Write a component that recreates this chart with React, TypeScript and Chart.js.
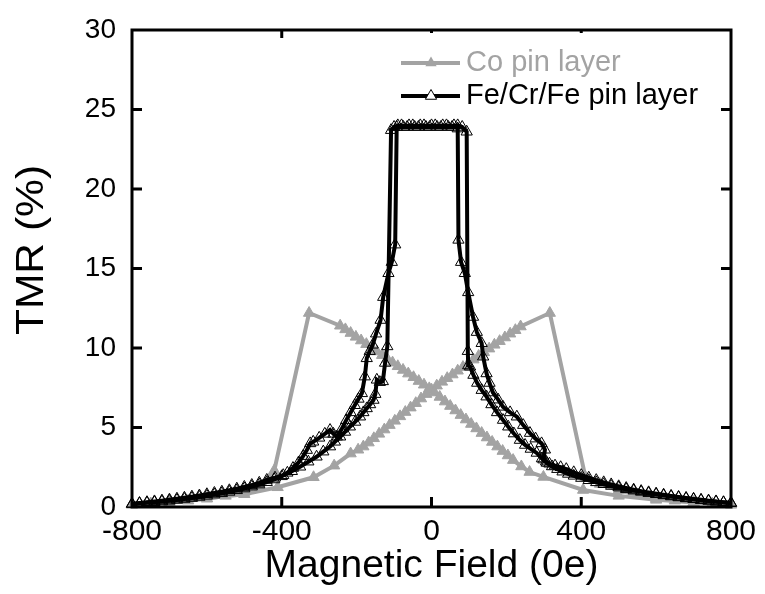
import React, { useEffect, useRef } from "react";
import { Chart, registerables } from "chart.js";

Chart.register(...registerables);

// ---- Data (Magnetic field in Oe, TMR in %) ----
const xTickValues = [-800, -400, 0, 400, 800];
const yTickValues = [0, 5, 10, 15, 20, 25, 30];

// Co pin layer, branch with the left jump
const coAField = [-800, -750, -700, -650, -600, -550, -500, -460, -420, -327, -244, -230, -216, -202, -188, -174, -160, -146, -132, -118, -104, -90, -76, -62, -48, -34, -20, -6, 8, 22, 36, 50, 64, 78, 92, 106, 120, 134, 148, 162, 176, 190, 204, 218, 240, 262, 299, 405, 500, 600, 700, 800];
const coATmr = [0.15, 0.22, 0.3, 0.4, 0.52, 0.7, 0.95, 1.3, 2.3, 12.2, 11.4, 11.17, 10.94, 10.7, 10.47, 10.24, 10.01, 9.78, 9.55, 9.31, 9.08, 8.85, 8.62, 8.39, 8.16, 7.92, 7.69, 7.46, 7.2, 6.92, 6.63, 6.35, 6.07, 5.78, 5.5, 5.22, 4.94, 4.65, 4.37, 4.09, 3.8, 3.52, 3.24, 2.95, 2.55, 2.2, 1.89, 1.07, 0.7, 0.45, 0.3, 0.15];

// Co pin layer, branch with the right jump
const coBField = [800, 750, 700, 650, 600, 550, 500, 450, 411, 316, 238, 224, 210, 196, 182, 168, 154, 140, 126, 112, 98, 84, 70, 56, 42, 28, 14, 0, -14, -28, -42, -56, -70, -84, -98, -112, -126, -140, -154, -168, -182, -196, -216, -260, -315, -411, -500, -600, -700, -800];
const coBTmr = [0.15, 0.22, 0.3, 0.4, 0.55, 0.75, 1.05, 1.45, 1.89, 12.2, 11.35, 11.12, 10.9, 10.66, 10.43, 10.2, 9.96, 9.73, 9.5, 9.27, 9.03, 8.8, 8.57, 8.33, 8.1, 7.87, 7.63, 7.38, 7.1, 6.82, 6.53, 6.25, 5.97, 5.7, 5.42, 5.15, 4.87, 4.6, 4.32, 4.05, 3.8, 3.6, 3.36, 2.6, 1.87, 1.24, 0.8, 0.55, 0.35, 0.15];

// Fe/Cr/Fe pin layer, sweep from negative to positive field
const feAField = [-800, -780, -760, -740, -720, -700, -680, -660, -640, -620, -600, -580, -560, -540, -520, -500, -480, -460, -440, -420, -400, -385, -370, -355, -343, -333, -324, -316, -300, -285, -271, -262, -253, -240, -228, -216, -205, -195, -186, -178, -173, -165, -157, -148, -136, -129, -115, -106, -97, -93, -80, -65, -50, -35, -20, -5, 10, 25, 40, 55, 70, 82, 94, 97, 98, 103, 112, 122, 134, 147, 160, 175, 191, 205, 220, 236, 250, 265, 281, 295, 308, 322, 336, 350, 365, 380, 400, 420, 440, 460, 480, 500, 520, 540, 560, 580, 600, 620, 640, 660, 680, 700, 720, 740, 760, 780, 800];
const feATmr = [0.18, 0.22, 0.26, 0.3, 0.34, 0.39, 0.44, 0.5, 0.56, 0.63, 0.7, 0.78, 0.86, 0.95, 1.05, 1.16, 1.28, 1.41, 1.56, 1.73, 1.93, 2.15, 2.45, 2.8, 3.2, 3.58, 4.0, 4.1, 4.35, 4.6, 4.84, 4.6, 4.42, 4.9, 5.45, 5.95, 6.4, 6.8, 7.15, 8.2, 9.35, 9.8, 10.2, 10.9, 11.76, 13.2, 14.7, 15.4, 16.5, 23.9, 24.0, 23.9, 24.0, 23.9, 24.0, 23.9, 24.0, 23.9, 24.0, 23.9, 24.0, 23.9, 23.6, 9.8, 8.9, 8.82, 8.3, 7.8, 7.35, 6.94, 6.45, 5.95, 5.47, 5.05, 4.62, 4.21, 3.9, 3.65, 3.4, 3.05, 2.77, 2.55, 2.38, 2.22, 2.08, 1.96, 1.82, 1.68, 1.55, 1.43, 1.32, 1.22, 1.12, 1.03, 0.95, 0.87, 0.8, 0.73, 0.66, 0.6, 0.54, 0.49, 0.43, 0.38, 0.33, 0.28, 0.24];

// Fe/Cr/Fe pin layer, sweep from positive to negative field
const feBField = [800, 780, 760, 740, 720, 700, 680, 660, 640, 620, 600, 580, 560, 540, 520, 500, 480, 460, 440, 420, 400, 380, 360, 345, 330, 315, 306, 299, 303, 294, 278, 263, 245, 228, 210, 191, 178, 164, 155, 147, 138, 134, 121, 111, 98, 89, 79, 72, 70, 60, 45, 30, 15, 0, -15, -30, -45, -60, -75, -90, -100, -108, -118, -124, -130, -138, -146, -150, -155, -164, -173, -182, -191, -204, -218, -231, -244, -258, -271, -289, -307, -329, -351, -373, -396, -418, -440, -460, -480, -500, -520, -540, -560, -580, -600, -620, -640, -660, -680, -700, -720, -740, -760, -780, -800];
const feBTmr = [0.26, 0.3, 0.35, 0.4, 0.45, 0.51, 0.57, 0.63, 0.7, 0.77, 0.84, 0.92, 1.0, 1.09, 1.19, 1.3, 1.42, 1.55, 1.69, 1.84, 2.0, 2.18, 2.38, 2.5, 2.6, 2.72, 2.85, 2.98, 3.6, 4.0, 4.3, 4.65, 5.15, 5.68, 5.95, 6.3, 6.75, 7.2, 7.8, 8.4, 9.45, 10.3, 11.0, 11.95, 13.5, 14.7, 15.4, 16.8, 23.8, 24.0, 23.9, 24.0, 23.9, 24.0, 23.9, 24.0, 23.9, 24.0, 23.9, 24.0, 23.9, 23.7, 10.1, 9.06, 7.9, 7.85, 8.0, 7.1, 6.73, 6.45, 6.2, 5.95, 5.68, 5.35, 5.05, 4.72, 4.42, 4.1, 3.8, 3.48, 3.16, 2.85, 2.53, 2.25, 2.0, 1.84, 1.7, 1.52, 1.38, 1.26, 1.15, 1.05, 0.96, 0.88, 0.8, 0.72, 0.65, 0.58, 0.52, 0.46, 0.4, 0.35, 0.3, 0.25, 0.2];

const seriesNames = ["Co pin layer", "Fe/Cr/Fe pin layer"];
const xTitle = "Magnetic Field (0e)";
const yTitle = "TMR (%)";
const GRAY = "#a3a3a3";
const BLACK = "#000000";
const FONT = "'Liberation Sans', Arial, Helvetica, sans-serif";

const zip = (xs: number[], ys: number[]) => xs.map((x, i) => ({ x, y: ys[i] }));

const framePlugin = {
  id: "frame",
  afterDatasetsDraw(chart: any) {
    const { ctx, chartArea: a, scales } = chart;
    const xs = scales.x;
    const ys = scales.y;
    ctx.save();
    ctx.strokeStyle = BLACK;
    ctx.lineWidth = 3;
    ctx.lineCap = "butt";
    ctx.strokeRect(a.left, a.top, a.right - a.left, a.bottom - a.top);
    ctx.beginPath();
    const tl = 10;
    for (const v of yTickValues) {
      if (v === 0 || v === 30) continue;
      const py = ys.getPixelForValue(v);
      ctx.moveTo(a.left, py);
      ctx.lineTo(a.left + tl, py);
      ctx.moveTo(a.right, py);
      ctx.lineTo(a.right - tl, py);
    }
    for (const v of xTickValues) {
      if (v === -800 || v === 800) continue;
      const px = xs.getPixelForValue(v);
      ctx.moveTo(px, a.bottom);
      ctx.lineTo(px, a.bottom - tl);
      const topLen = v === -400 ? 8 : 3;
      ctx.moveTo(px, a.top);
      ctx.lineTo(px, a.top + topLen);
    }
    ctx.stroke();
    ctx.restore();
  },
  afterDraw(chart: any) {
    const { ctx } = chart;
    ctx.save();
    // y axis title
    ctx.save();
    ctx.translate(33, 250);
    ctx.rotate(-Math.PI / 2);
    ctx.scale(1.12, 1);
    ctx.fillStyle = BLACK;
    ctx.font = `38px ${FONT}`;
    ctx.textAlign = "center";
    ctx.textBaseline = "middle";
    ctx.fillText(yTitle, 0, 0);
    ctx.restore();

    const items = [
      { name: seriesNames[0], color: GRAY, y: 63, filled: true },
      { name: seriesNames[1], color: BLACK, y: 96, filled: false },
    ];
    for (const it of items) {
      ctx.strokeStyle = it.color;
      ctx.lineWidth = 4;
      ctx.beginPath();
      ctx.moveTo(401, it.y);
      ctx.lineTo(460, it.y);
      ctx.stroke();
      const r = 6.5;
      const cx = 431;
      const cy = it.y;
      ctx.beginPath();
      ctx.moveTo(cx, cy - r);
      ctx.lineTo(cx + r * 0.866, cy + r * 0.5);
      ctx.lineTo(cx - r * 0.866, cy + r * 0.5);
      ctx.closePath();
      if (it.filled) {
        ctx.fillStyle = it.color;
        ctx.fill();
      } else {
        ctx.fillStyle = "#ffffff";
        ctx.fill();
        ctx.lineWidth = 1;
        ctx.strokeStyle = it.color;
        ctx.stroke();
      }
      ctx.fillStyle = it.color;
      ctx.font = `29px ${FONT}`;
      ctx.textBaseline = "alphabetic";
      ctx.textAlign = "left";
      ctx.fillText(it.name, 466, it.y + 8);
    }
    ctx.restore();
  },
};

export default function App() {
  const ref = useRef<HTMLCanvasElement | null>(null);
  useEffect(() => {
    if (!ref.current) return;
    const common = {
      showLine: true,
      pointStyle: "triangle",
      borderWidth: 4,
      clip: false,
    };
    const grayStyle = {
      borderColor: GRAY,
      backgroundColor: GRAY,
      pointBackgroundColor: GRAY,
      pointBorderColor: GRAY,
      pointBorderWidth: 1,
      pointRadius: 6.5,
      order: 2,
    };
    const blackStyle = {
      borderColor: BLACK,
      backgroundColor: "rgba(0,0,0,0)",
      pointBackgroundColor: "rgba(0,0,0,0)",
      pointBorderColor: BLACK,
      pointBorderWidth: 1,
      pointRadius: 6.5,
      order: 1,
    };
    const chart = new Chart(ref.current, {
      type: "scatter",
      data: {
        datasets: [
          { ...common, ...grayStyle, label: seriesNames[0], data: zip(coAField, coATmr) },
          { ...common, ...grayStyle, label: seriesNames[0] + " (return)", data: zip(coBField, coBTmr) },
          { ...common, ...blackStyle, label: seriesNames[1], data: zip(feAField, feATmr) },
          { ...common, ...blackStyle, label: seriesNames[1] + " (return)", data: zip(feBField, feBTmr) },
        ],
      },
      options: {
        animation: false,
        responsive: false,
        devicePixelRatio: 1,
        layout: { padding: { top: 30, right: 34, left: 0, bottom: 0 } },
        plugins: { legend: { display: false }, tooltip: { enabled: false } },
        elements: { line: { tension: 0 } },
        scales: {
          x: {
            type: "linear",
            min: -800,
            max: 800,
            afterBuildTicks: (s: any) => {
              s.ticks = xTickValues.map((v) => ({ value: v }));
            },
            ticks: {
              color: BLACK,
              font: { family: FONT, size: 30 },
              padding: 7,
              maxRotation: 0,
            },
            grid: { display: false, drawTicks: false },
            border: { display: false },
            title: {
              display: true,
              text: xTitle,
              color: BLACK,
              font: { family: FONT, size: 39 },
              padding: { top: 0, bottom: 4 },
            },
            afterFit: (s: any) => {
              s.height = 87;
              s.paddingLeft = 0;
              s.paddingRight = 0;
            },
          },
          y: {
            type: "linear",
            min: 0,
            max: 30,
            afterBuildTicks: (s: any) => {
              s.ticks = yTickValues.map((v) => ({ value: v }));
            },
            ticks: {
              color: BLACK,
              font: { family: FONT, size: 28 },
              padding: 16,
            },
            grid: { display: false, drawTicks: false },
            border: { display: false },
            title: { display: false },
            afterFit: (s: any) => {
              s.width = 132;
              s.paddingTop = 0;
              s.paddingBottom = 0;
            },
          },
        },
      },
      plugins: [framePlugin],
    } as any);
    return () => chart.destroy();
  }, []);
  return (
    <div style={{ position: "absolute", left: 0, top: 0, width: 765, height: 594, background: "#fff" }}>
      <canvas ref={ref} width={765} height={594} />
    </div>
  );
}
